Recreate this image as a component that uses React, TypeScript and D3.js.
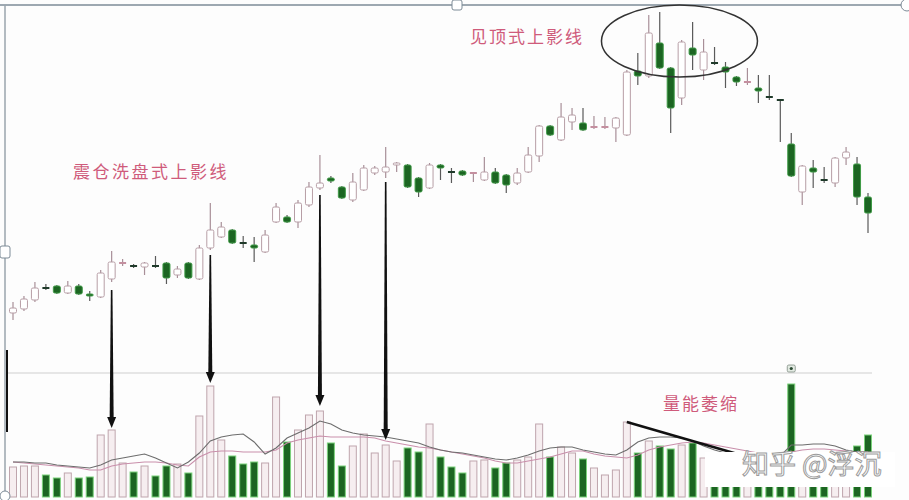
import React from 'react';
import * as d3 from 'd3';

// daily candles (price units)
const opens = [
  8.7, 9.1, 10.0, 11.2, 11.4, 10.7, 11.4, 10.6, 10.3, 12.1,
  13.6, 13.4, 13.3, 13.4, 13.7, 12.5, 13.7, 12.1, 15.2, 16.3,
  17.0, 15.7, 15.5, 14.8, 17.8, 18.3, 17.8, 19.5, 21.2, 22.2,
  21.3, 20.0, 21.0, 22.7, 22.8, 23.5, 23.5, 22.2, 21.2, 23.5,
  22.8, 22.9, 22.6, 22.0, 22.8, 22.5, 21.7, 22.8, 24.4, 27.4,
  26.0, 27.8, 27.7, 27.2, 27.2, 27.2, 26.5, 32.9, 32.4, 35.7,
  33.2, 30.2, 35.2, 33.0, 33.7, 33.3, 32.3, 31.7, 31.2, 30.3,
  30.0, 25.6, 20.8, 23.2, 22.0, 21.7, 24.2, 23.6, 20.3,
];
const closes = [
  9.2, 10.1, 11.2, 11.1, 10.7, 11.4, 10.6, 10.4, 12.7, 13.8,
  13.7, 13.3, 13.7, 13.3, 12.2, 13.1, 12.2, 15.2, 17.0, 17.3,
  15.7, 15.6, 15.2, 16.5, 19.3, 17.8, 19.7, 21.3, 21.7, 21.9,
  20.2, 21.8, 23.2, 23.2, 23.3, 23.7, 21.3, 20.8, 23.5, 23.2,
  22.7, 22.5, 22.7, 22.8, 21.7, 21.5, 22.7, 24.5, 27.4, 26.5,
  28.3, 28.5, 27.0, 27.3, 27.3, 28.2, 32.8, 32.4, 36.7, 33.2,
  29.2, 35.8, 34.5, 34.8, 33.6, 32.8, 31.8, 31.8, 30.9, 30.2,
  29.9, 22.4, 23.4, 22.8, 21.9, 24.2, 24.8, 20.3, 18.7,
];
const highs = [
  9.8, 10.4, 11.8, 11.6, 11.5, 11.9, 11.6, 10.9, 13.0, 14.9,
  14.1, 13.6, 13.8, 14.4, 13.8, 13.4, 13.8, 15.5, 19.7, 17.8,
  17.1, 16.4, 16.3, 17.0, 19.7, 18.5, 20.0, 21.8, 24.5, 22.4,
  21.4, 22.7, 23.5, 23.4, 25.3, 23.8, 23.6, 22.3, 23.7, 23.6,
  23.2, 23.0, 22.8, 24.3, 23.2, 22.6, 23.2, 25.3, 27.5, 27.5,
  29.7, 29.2, 29.2, 28.4, 28.3, 28.3, 33.0, 34.7, 38.5, 38.8,
  33.3, 36.0, 37.8, 36.1, 35.3, 33.8, 32.4, 33.2, 32.5, 32.5,
  30.1, 26.7, 23.5, 24.0, 23.3, 24.3, 25.3, 24.3, 20.7,
];
const lows = [
  8.0, 8.9, 9.8, 11.0, 10.6, 10.6, 10.5, 9.9, 10.2, 11.8,
  13.4, 13.2, 12.5, 13.2, 11.6, 12.2, 12.1, 12.0, 15.0, 16.2,
  15.6, 15.2, 13.8, 14.7, 17.7, 17.7, 17.2, 19.3, 21.0, 21.7,
  20.1, 19.8, 20.9, 22.5, 22.2, 22.8, 21.2, 20.3, 21.1, 22.0,
  21.7, 22.4, 21.8, 21.9, 21.6, 20.7, 21.5, 22.7, 23.8, 26.4,
  25.9, 27.0, 26.9, 27.1, 27.1, 25.8, 26.4, 31.5, 32.2, 33.1,
  26.7, 29.5, 33.0, 32.0, 33.5, 31.2, 31.4, 31.5, 29.7, 30.0,
  25.8, 22.3, 19.5, 21.2, 21.7, 21.3, 23.5, 19.5, 16.7,
];

// volume and its two moving averages
const volumes = [
  3.0, 3.1, 3.1, 2.2, 1.9, 2.4, 1.9, 2.0, 6.2, 6.7,
  3.4, 2.5, 3.1, 2.1, 3.1, 3.3, 2.4, 8.1, 11.1, 5.7,
  4.1, 3.3, 3.5, 3.4, 10.0, 5.5, 6.7, 8.2, 8.6, 5.4,
  3.1, 5.1, 6.3, 4.4, 5.2, 3.6, 4.9, 4.5, 7.3, 4.0,
  3.0, 2.4, 3.6, 3.7, 2.9, 3.4, 3.7, 4.0, 7.3, 4.0,
  5.0, 4.4, 3.8, 2.9, 2.2, 2.7, 7.5, 4.4, 5.6, 5.1,
  4.8, 5.2, 5.4, 3.9, 3.6, 3.3, 3.0, 2.8, 3.2, 3.0,
  3.4, 11.3, 4.0, 3.6, 3.4, 3.2, 3.5, 5.1, 6.2,
];
const volMa5 = [
  3.5, 3.5, 3.4, 3.4, 3.2, 3.1, 3.0, 2.9, 3.2, 3.7,
  3.9, 4.1, 4.3, 3.9, 3.4, 2.9, 3.5, 4.4, 5.6, 6.0,
  6.2, 6.3, 5.5, 4.3, 4.9, 5.9, 6.4, 6.9, 7.6, 7.3,
  6.7, 6.4, 6.2, 6.1, 6.0, 5.8, 5.6, 5.4, 5.0, 4.7,
  4.5, 4.4, 4.2, 4.0, 3.8, 3.7, 3.9, 4.2, 4.6, 4.9,
  5.0, 5.0, 4.7, 4.5, 4.3, 4.2, 4.7, 5.5, 5.9, 6.0,
  6.0, 5.9, 5.6, 5.1, 4.7, 4.4, 4.3, 4.2, 4.2, 4.1,
  4.1, 5.2, 5.2, 5.3, 5.3, 5.1, 4.7, 4.5, 4.5,
];
const volMa10 = [
  3.5, 3.4, 3.3, 3.2, 3.1, 3.0, 2.9, 2.7, 2.7, 3.1,
  3.3, 3.4, 3.5, 3.5, 3.4, 3.2, 3.1, 4.0, 4.5, 4.6,
  4.6, 4.5, 4.5, 4.5, 4.7, 5.4, 5.7, 5.9, 6.1, 6.0,
  6.0, 6.0, 6.0, 5.9, 5.6, 5.4, 5.2, 5.0, 4.9, 4.7,
  4.5, 4.3, 4.1, 3.9, 3.6, 3.4, 3.4, 3.6, 3.8, 4.0,
  4.3, 4.6, 4.6, 4.3, 4.1, 4.0, 3.9, 4.2, 4.7, 5.0,
  5.2, 5.4, 5.5, 5.4, 5.2, 5.0, 4.8, 4.6, 4.4, 4.3,
  4.2, 4.5, 4.7, 4.8, 4.8, 4.7, 4.6, 4.5, 4.5,
];

// arrows: candle index, start price, end volume
const arrowDays = [9, 18, 28, 34];
const arrowFrom = [11.0, 14.5, 20.5, 21.8];
const arrowTo = [6.9, 11.4, 9.1, 5.7];

const W = 909;
const H = 500;
const BODY = 7;
const UP_STROKE = '#b79ea6';
const DOWN_FILL = '#1c6522';
const LABEL = '#cf5b7b';

const x = d3.scaleLinear().domain([0, opens.length - 1]).range([13, 868]);
const y = d3.scaleLinear().domain([0, 40]).range([400, 0]);
const yv = d3.scaleLinear().domain([0, 12.4]).range([497, 373]);

const maLine = d3.line<number>().x((_, i) => x(i)).y(d => yv(d));

const App: React.FC = () => {
  const days = d3.range(opens.length);
  const cjk = '"Noto Sans CJK SC", "Noto Sans", sans-serif';

  return (
    <svg width={W} height={H} viewBox={`0 0 ${W} ${H}`}
      style={{ position: 'absolute', left: 0, top: 0, background: '#fdfdfd' }}>
      {/* frame */}
      <line x1={0} x2={W} y1={5} y2={5} stroke="#7d8b97" strokeWidth={1.5} />
      <line x1={5} x2={5} y1={5} y2={H} stroke="#9aa4ad" strokeWidth={1.5} />
      <line x1={7} x2={7} y1={350} y2={432} stroke="#111" strokeWidth={2} />
      <line x1={8} x2={872} y1={373} y2={373} stroke="#cfcfcf" strokeWidth={1} />

      {/* candles */}
      {days.map(i => {
        const o = opens[i], c = closes[i];
        const up = c >= o;
        const cx = x(i);
        const top = y(Math.max(o, c));
        const bot = y(Math.min(o, c));
        const doji = bot - top < 2;
        const wick = up ? '#a88f98' : '#5a5a5a';
        return (
          <g key={`c${i}`}>
            <line x1={cx} x2={cx} y1={y(highs[i])} y2={top} stroke={wick} strokeWidth={1.2} />
            <line x1={cx} x2={cx} y1={bot} y2={y(lows[i])} stroke={wick} strokeWidth={1.2} />
            {doji ? (
              <line x1={cx - BODY / 2} x2={cx + BODY / 2} y1={top} y2={top}
                stroke={up ? '#c48f9f' : '#1f3a2a'} strokeWidth={2} />
            ) : (
              <rect x={cx - BODY / 2} y={top} width={BODY} height={bot - top} rx={1.5}
                fill={up ? '#ffffff' : DOWN_FILL}
                stroke={up ? UP_STROKE : '#3f9a46'} strokeWidth={1} />
            )}
          </g>
        );
      })}

      {/* volume bars */}
      {days.map(i => {
        const up = closes[i] >= opens[i];
        return (
          <rect key={`v${i}`} x={x(i) - BODY / 2} y={yv(volumes[i])} width={BODY}
            height={yv(0) - yv(volumes[i])}
            fill={up ? '#f6eef0' : DOWN_FILL}
            stroke={up ? '#bfa5ad' : '#7bd27b'} strokeWidth={1} />
        );
      })}

      {/* volume moving averages */}
      <path d={maLine(volMa10) || ''} fill="none" stroke="#c98fab" strokeWidth={1.1} />
      <path d={maLine(volMa5) || ''} fill="none" stroke="#6d6d6d" strokeWidth={1.1} />

      {/* shrinking volume trend line */}
      <line x1={x(56)} y1={yv(volumes[56])} x2={x(66.4)} y2={yv(4.2)} stroke="#111" strokeWidth={2.5} />

      {/* small marker over the big volume day */}
      <rect x={x(71) - 4} y={365} width={8} height={7} rx={1.5} fill="#e3ebe3" stroke="#7d8a80" strokeWidth={0.8} />
      <circle cx={x(71)} cy={368.5} r={1.6} fill="#2c4a33" />

      {/* arrows */}
      {arrowDays.map((d, k) => {
        const ax = x(d);
        const y0 = y(arrowFrom[k]);
        const tip = yv(arrowTo[k]);
        return (
          <g key={`a${k}`}>
            <polygon points={`${ax - 0.8},${y0} ${ax + 0.8},${y0} ${ax + 2},${tip - 10} ${ax - 2},${tip - 10}`} fill="#111" />
            <polygon points={`${ax - 4.5},${tip - 11} ${ax + 4.5},${tip - 11} ${ax},${tip}`} fill="#111" />
          </g>
        );
      })}

      {/* top ellipse */}
      <ellipse cx={x(60.8)} cy={y(35.9)} rx={78} ry={36} fill="none" stroke="#333" strokeWidth={1.5} />

      {/* labels */}
      <text x={470} y={43} fontFamily={cjk} fontSize={17} letterSpacing={2} fill={LABEL}>见顶式上影线</text>
      <text x={73} y={178} fontFamily={cjk} fontSize={17} letterSpacing={2.5} fill={LABEL}>震仓洗盘式上影线</text>
      <text x={663} y={410} fontFamily={cjk} fontSize={17} letterSpacing={2} fill={LABEL}>量能萎缩</text>

      {/* watermark */}
      <rect x={705} y={452} width={190} height={35} fill="#ffffff" />
      <text x={742} y={474} fontFamily={cjk} fontSize={27} fill="#ffffff" stroke="#9c9c9c" strokeWidth={1}>知乎 @浮沉</text>

      {/* selection handles */}
      <rect x={452} y={0} width={10} height={10} rx={2} fill="#fff" stroke="#7d8b97" />
      <rect x={0} y={246} width={10} height={12} rx={2} fill="#fff" stroke="#7d8b97" />
      <circle cx={907} cy={5} r={6} fill="#fff" stroke="#7d8b97" />
      <circle cx={5} cy={496} r={5} fill="#fff" stroke="#7d8b97" />
    </svg>
  );
};

export default App;
